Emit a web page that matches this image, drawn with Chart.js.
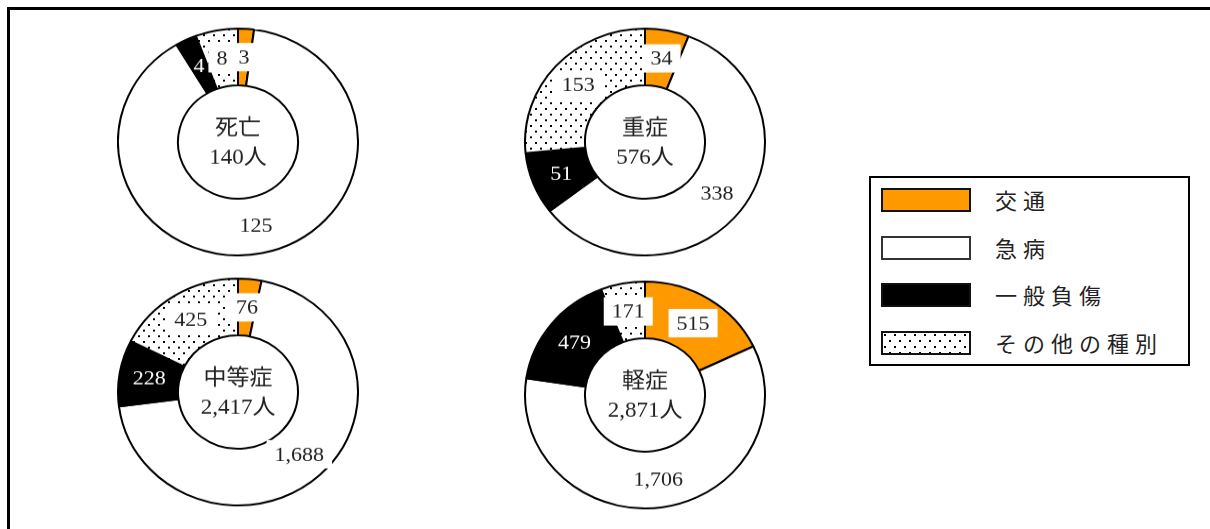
<!DOCTYPE html>
<html lang="ja">
<head>
<meta charset="utf-8">
<title>傷病程度別 事故種別搬送人員</title>
<script src="https://cdn.jsdelivr.net/npm/chart.js@4/dist/chart.umd.min.js"></script>
<style>
    html, body {
        margin: 0;
        padding: 0;
        background: #fff;
        width: 1210px;
        height: 529px;
        overflow: hidden;
    }
    .frame {
        position: absolute;
        left: 7px;
        top: 7px;
        width: 1230px;
        height: 560px;
        border-left: 3px solid #000;
        border-top: 3px solid #000;
    }
    .pie {
        position: absolute;
        width: 242px;
        height: 242px;
    }
    .pie canvas {
        transform: scaleY(0.945);
        transform-origin: 50% 50%;
    }
    .legend {
        position: absolute;
        left: 869px;
        top: 176px;
        width: 317px;
        height: 186px;
        border: 2px solid #000;
        font-family: "Noto Sans CJK JP", sans-serif;
        font-size: 22px;
        letter-spacing: 6px;
        color: #222;
    }
    .legend-item {
        position: absolute;
        left: 10px;
        height: 24px;
    }
    .legend-swatch {
        position: absolute;
        left: 0;
        top: 0;
        width: 86px;
        height: 20px;
        border: 2px solid #111;
    }
    .legend-text {
        position: absolute;
        left: 114px;
        top: -5px;
        white-space: nowrap;
        line-height: 32px;
    }
</style>
</head>
<body>
<div class="frame"></div>
<div class="pie" id="pie0"><canvas width="242" height="242"></canvas></div>
<div class="pie" id="pie1"><canvas width="242" height="242"></canvas></div>
<div class="pie" id="pie2"><canvas width="242" height="242"></canvas></div>
<div class="pie" id="pie3"><canvas width="242" height="242"></canvas></div>
<div class="legend" id="legend"></div>

<script>
// accident types, in the order they go round each ring (clockwise from the top)
const categories = ["交通", "急病", "一般負傷", "その他の種別"];

// people carried, by severity
const deathValues = [3, 125, 4, 8];
const seriousValues = [34, 338, 51, 153];
const moderateValues = [76, 1688, 228, 425];
const minorValues = [515, 1706, 479, 171];

const severityTitles = ["死亡", "重症", "中等症", "軽症"];

// ring centres on the page
const pieCentres = [
    [237.5, 142],
    [645, 142],
    [238, 391.5],
    [644.5, 395],
];

const LABEL_FONT = "22px 'Liberation Serif', 'Noto Sans CJK JP', serif";
const CAPTION_FONT = "23px 'Liberation Serif', 'Noto Sans CJK JP', serif";

function makeDotPattern() {
    const c = document.createElement("canvas");
    c.width = 10;
    c.height = 12;
    const g = c.getContext("2d");
    g.fillStyle = "#fff";
    g.fillRect(0, 0, 10, 12);
    g.fillStyle = "#000";
    g.fillRect(1, 1, 2, 2);
    g.fillRect(6, 7, 2, 2);
    return c;
}

const dotCanvas = makeDotPattern();
const dotPattern = dotCanvas
    .getContext("2d")
    .createPattern(dotCanvas, "repeat");

const sliceColors = ["#FF9900", "#FFFFFF", "#000000", dotPattern];
const legendFills = ["#FF9900", "#FFFFFF", "#000000", "url(" + dotCanvas.toDataURL() + ")"];

const sliceLabels = {
    id: "sliceLabels",
    afterDatasetsDraw(chart) {
        const ctx = chart.ctx;
        const meta = chart.getDatasetMeta(0);
        const values = chart.data.datasets[0].data;

        ctx.save();
        ctx.font = LABEL_FONT;
        ctx.textAlign = "center";
        ctx.textBaseline = "middle";

        meta.data.forEach((arc, i) => {
            const pos = arc.tooltipPosition(true);
            const text = values[i].toLocaleString("en-US");
            const onBlack = i === 2;
            if (!onBlack) {
                const w = ctx.measureText(text).width + 16;
                const h = 30;
                ctx.fillStyle = "#fff";
                ctx.fillRect(pos.x - w / 2, pos.y - h / 2, w, h);
            }
            ctx.fillStyle = onBlack ? "#fff" : "#222";
            ctx.fillText(text, pos.x, pos.y + 1);
        });

        // caption in the hole
        const cx = (chart.chartArea.left + chart.chartArea.right) / 2;
        const cy = (chart.chartArea.top + chart.chartArea.bottom) / 2;
        const total = values.reduce((a, b) => a + b, 0);
        ctx.font = CAPTION_FONT;
        ctx.fillStyle = "#222";
        ctx.fillText(chart.options.plugins.sliceLabels.title, cx, cy - 14);
        ctx.fillText(total.toLocaleString("en-US") + "人", cx, cy + 17);
        ctx.restore();
    },
};

function createPie(index, values) {
    const holder = document.getElementById("pie" + index);
    const [x, y] = pieCentres[index];
    holder.style.left = x - 121 + "px";
    holder.style.top = y - 121 + "px";

    const ctx = holder.querySelector("canvas").getContext("2d");
    return new Chart(ctx, {
        type: "doughnut",
        data: {
            labels: categories,
            datasets: [
                {
                    data: values,
                    backgroundColor: sliceColors,
                    borderColor: "#000",
                    borderWidth: 2,
                },
            ],
        },
        options: {
            responsive: false,
            animation: false,
            events: [],
            cutout: "50%",
            layout: { padding: 0 },
            plugins: {
                legend: { display: false },
                tooltip: { enabled: false },
                sliceLabels: { title: severityTitles[index] },
            },
        },
        plugins: [sliceLabels],
    });
}

function buildLegend() {
    const box = document.getElementById("legend");
    categories.forEach((name, i) => {
        const item = document.createElement("div");
        item.className = "legend-item";
        item.style.top = 10 + i * 47.5 + "px";

        const swatch = document.createElement("div");
        swatch.className = "legend-swatch";
        swatch.style.background = legendFills[i];
        if (i === 1) swatch.style.borderColor = "#333";

        const label = document.createElement("div");
        label.className = "legend-text";
        label.textContent = name;

        item.appendChild(swatch);
        item.appendChild(label);
        box.appendChild(item);
    });
}

document.addEventListener("DOMContentLoaded", () => {
    createPie(0, deathValues);
    createPie(1, seriousValues);
    createPie(2, moderateValues);
    createPie(3, minorValues);
    buildLegend();
});
</script>
</body>
</html>
